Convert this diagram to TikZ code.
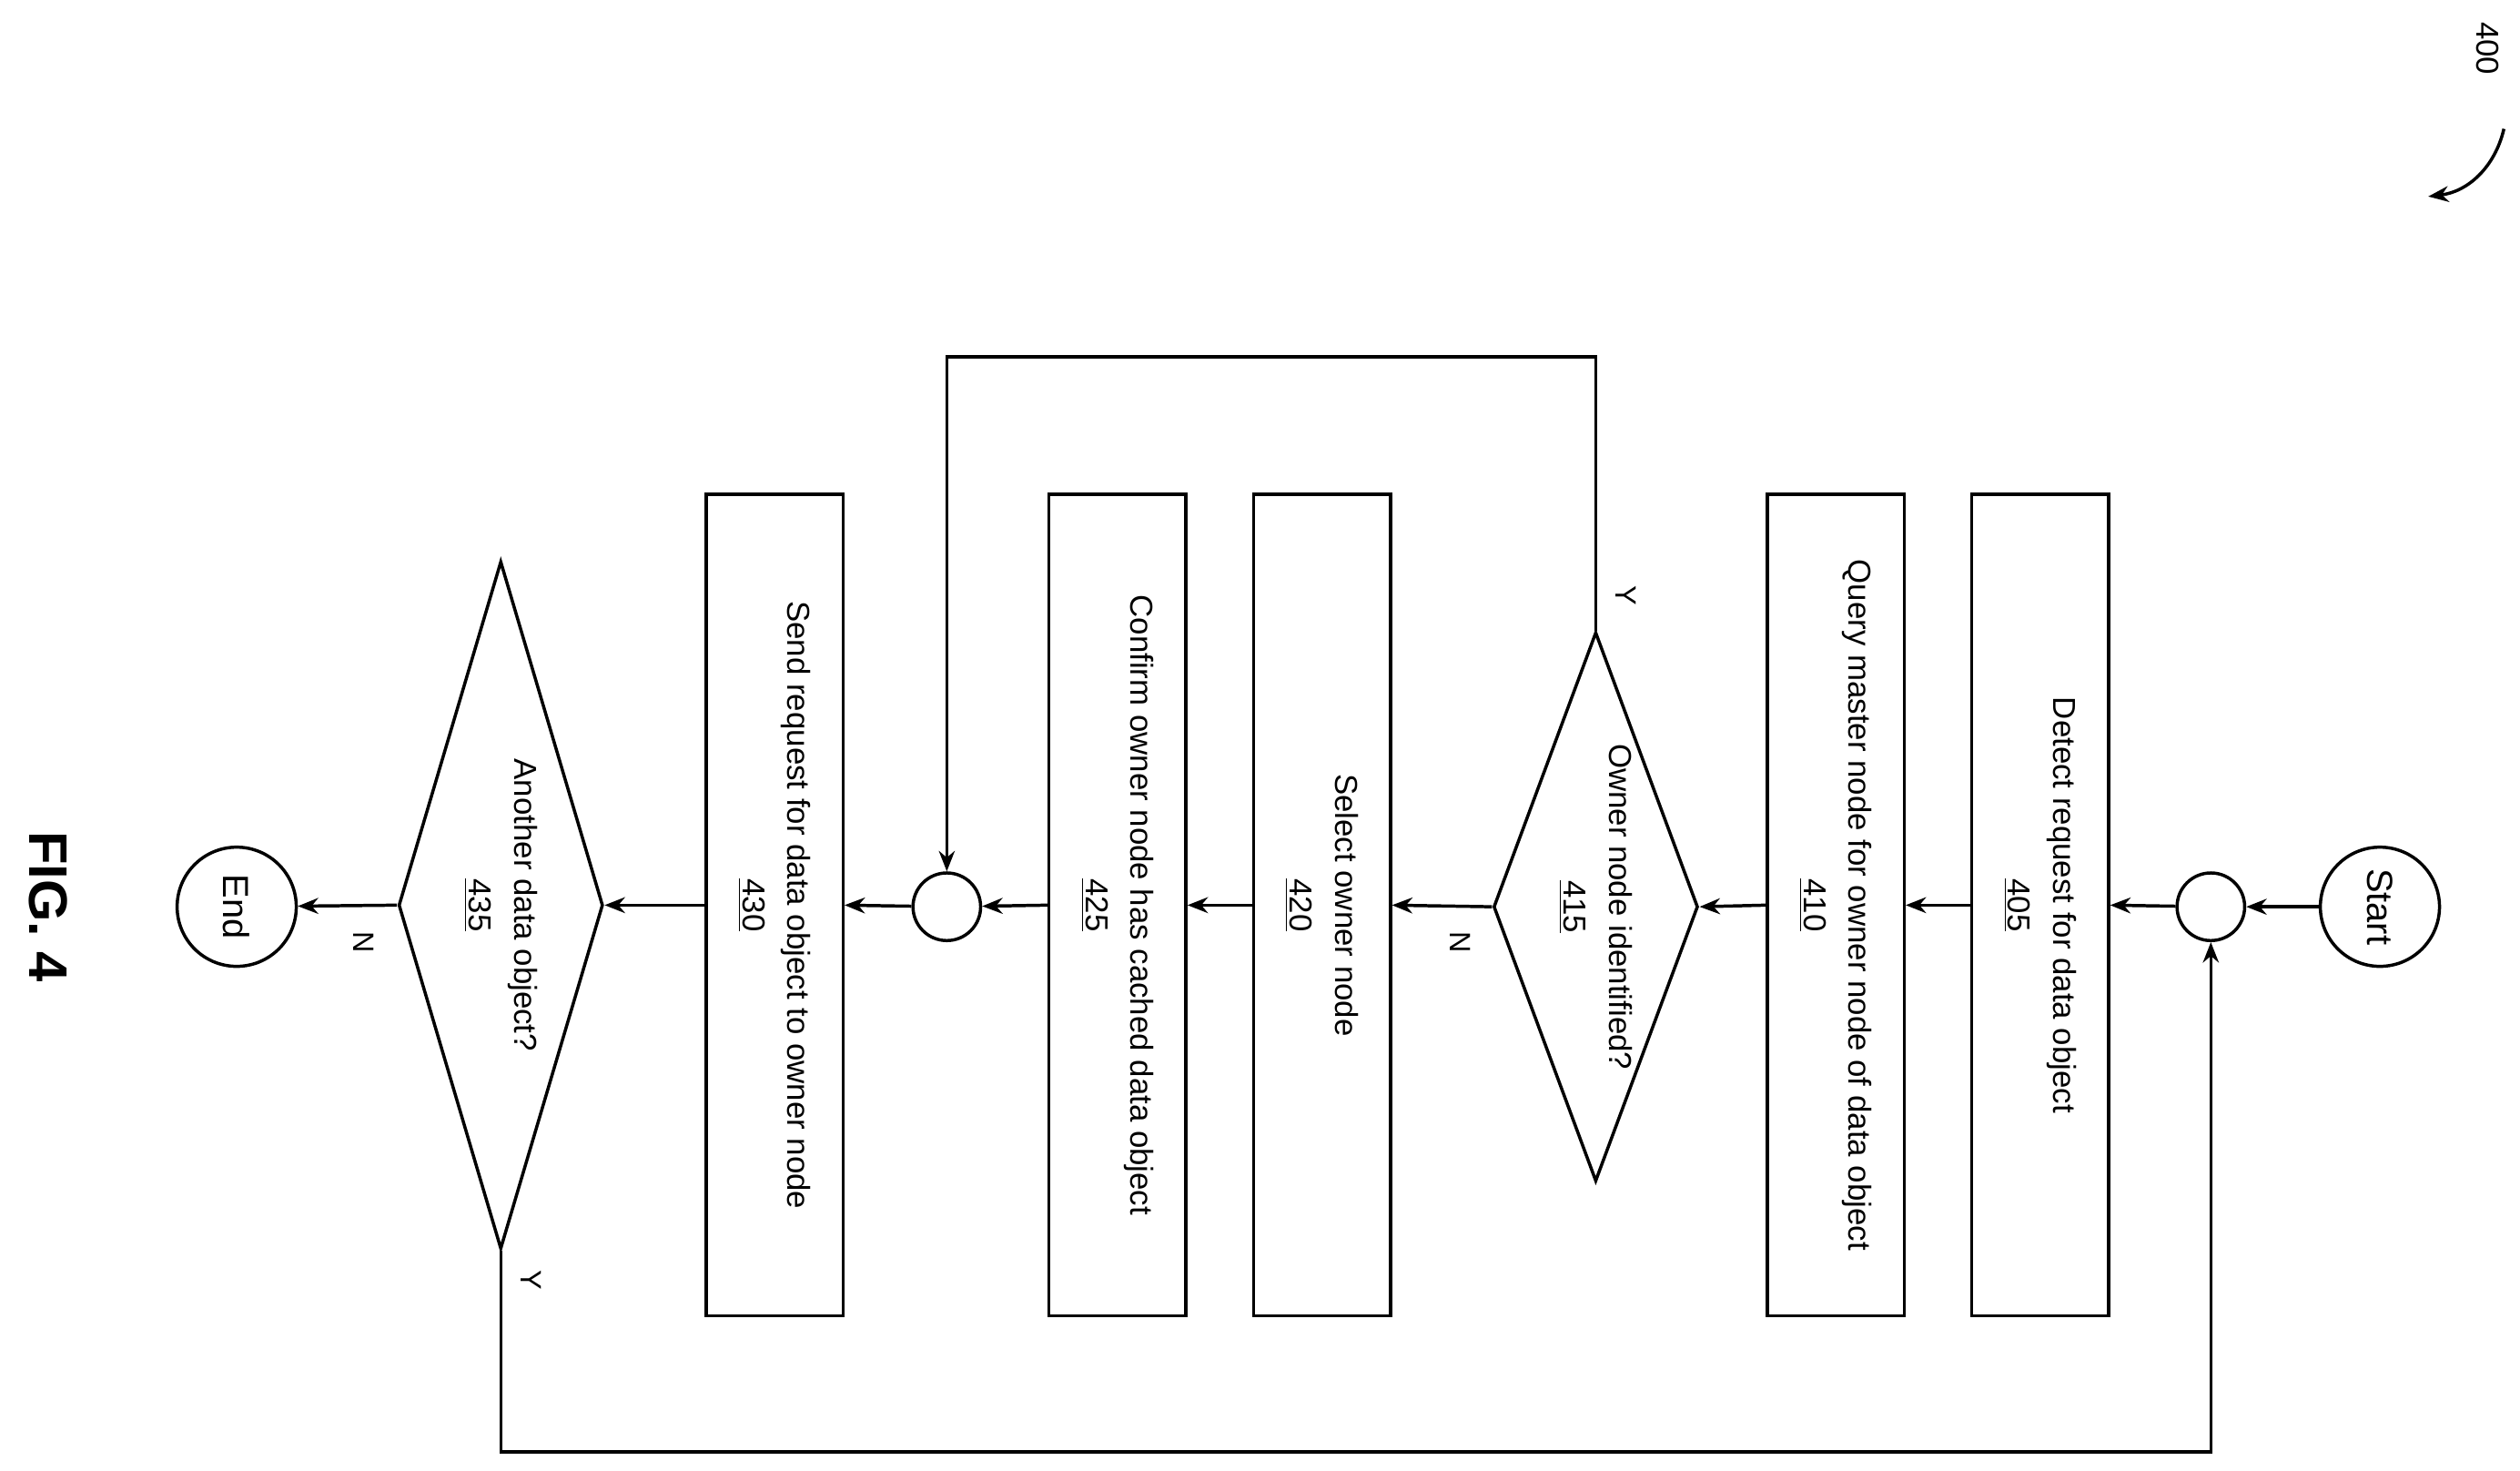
\documentclass[tikz,border=0pt]{standalone}
\usepackage{fontspec}
\setmainfont{Liberation Sans}
\usetikzlibrary{shapes.geometric,arrows.meta}
\newcommand\pu{0.025cm}

\begin{document}
\begin{tikzpicture}[
    x=0.025cm, y=-0.025cm,
    line width=1.4pt,
    step box/.style={draw, rectangle, rotate=-90, minimum width=510*\pu, minimum height=85*\pu, inner sep=0pt, align=center, font=\fontsize{14}{20}\selectfont},
    test/.style={draw, diamond, rotate=-90, inner sep=0pt},
    test text/.style={rotate=-90, align=center, font=\fontsize{14}{20}\selectfont},
    terminal/.style={draw, circle, minimum size=74*\pu, inner sep=0pt, rotate=-90, font=\fontsize{16}{18}\selectfont},
    joint/.style={draw, circle, minimum size=42*\pu, inner sep=0pt},
    flow/.style={-{Stealth[length=9pt, width=7pt]}},
    branch/.style={rotate=-90, font=\fontsize{13}{15}\selectfont}
    ]
    \useasboundingbox (0,0) rectangle (1565,913);

    % terminals and junctions
    \node [terminal] (start) at (1478,563) {Start};
    \node [joint] (j1) at (1373,563) {};
    \node [joint] (j2) at (588,563) {};
    \node [terminal] (end) at (147,563) {End};

    % process steps
    \node [step box] (s405) at (1267,562) {Detect request for data object\\\underline{405}};
    \node [step box] (s410) at (1140,562) {Query master node for owner node of data object\\\underline{410}};
    \node [step box] (s420) at (821,562) {Select owner node\\\underline{420}};
    \node [step box] (s425) at (694,562) {Confirm owner node has cached data object\\\underline{425}};
    \node [step box] (s430) at (481,562) {Send request for data object to owner node\\\underline{430}};

    % decisions
    \node [test, minimum width=341*\pu, minimum height=127*\pu] (d415) at (991,563) {};
    \node [test text] at (d415) {Owner node identified?\\\underline{415}};
    \node [test, minimum width=427*\pu, minimum height=127*\pu] (d435) at (311,562) {};
    \node [test text] at (d435) {Another data object?\\\underline{435}};

    % main flow
    \draw [flow] (start) -- (j1);
    \draw [flow] (j1) -- (s405.north);
    \draw [flow] (s405.south) -- (s410.north);
    \draw [flow] (s410.south) -- (d415.north);
    \draw [flow] (d415.south) -- (s420.north);
    \draw [flow] (s420.south) -- (s425.north);
    \draw [flow] (s425.south) -- (j2);
    \draw [flow] (j2) -- (s430.north);
    \draw [flow] (s430.south) -- (d435.north);
    \draw [flow] (d435.south) -- (end);

    % loops back
    \draw [flow] (d415.west) -- ++(0,-170) -| (j2.north);
    \draw [flow] (d435.east) -- ++(0,125) -| (j1.south);

    % branch labels
    \node [branch] at (907,585) {N};
    \node [branch] at (1010,370) {Y};
    \node [branch] at (226,585) {N};
    \node [branch] at (330,795) {Y};

    % figure number
    \node [rotate=-90, font=\fontsize{14}{16}\selectfont] (ref) at (1545,30) {400};
    \coordinate (refend) at (1508,122);
    \draw [flow] (1555,80) to[bend left=35] (refend);
    \node [rotate=-90, font=\bfseries\fontsize{24}{28}\selectfont] (fig) at (30,563) {FIG. 4};
\end{tikzpicture}
\end{document}
